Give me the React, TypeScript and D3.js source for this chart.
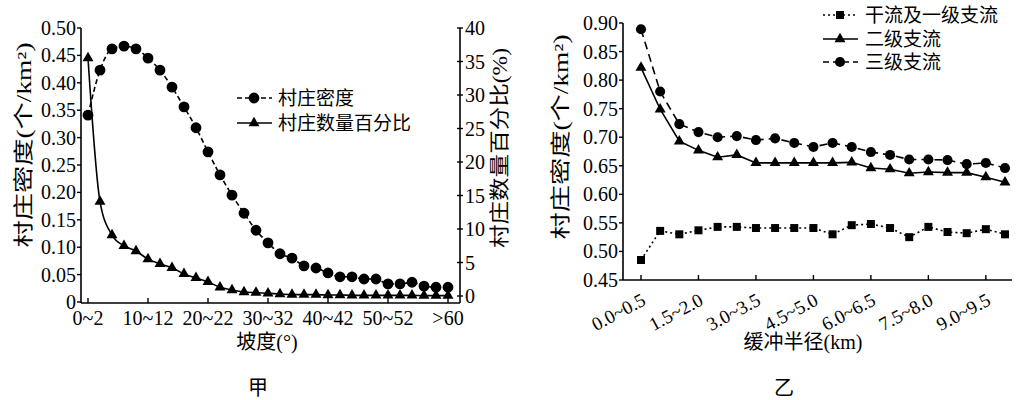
import React from 'react';
import * as d3 from 'd3';

// ---------- 甲 data ----------
const slopeCats = [
  '0~2', '2~4', '4~6', '6~8', '8~10', '10~12', '12~14', '14~16', '16~18', '18~20',
  '20~22', '22~24', '24~26', '26~28', '28~30', '30~32', '32~34', '34~36', '36~38', '38~40',
  '40~42', '42~44', '44~46', '46~48', '48~50', '50~52', '52~54', '54~56', '56~58', '58~60', '>60',
];
const slopeTickLabels = ['0~2', '10~12', '20~22', '30~32', '40~42', '50~52', '>60'];
const villageDensity = [
  0.341, 0.423, 0.462, 0.467, 0.462, 0.445, 0.423, 0.392, 0.356, 0.318,
  0.274, 0.232, 0.195, 0.162, 0.131, 0.108, 0.088, 0.080, 0.066, 0.062,
  0.053, 0.046, 0.046, 0.042, 0.042, 0.033, 0.033, 0.036, 0.029, 0.027, 0.027,
];
const villagePct = [
  35.5, 14.1, 9.1, 7.5, 6.7, 5.5, 4.8, 4.2, 3.3, 2.7,
  2.1, 1.3, 0.9, 0.6, 0.5, 0.4, 0.3, 0.2, 0.2, 0.2,
  0.15, 0.15, 0.1, 0.1, 0.1, 0.1, 0.1, 0.1, 0.05, 0.05, 0.05,
];
const densityTicksL = [0, 0.05, 0.1, 0.15, 0.2, 0.25, 0.3, 0.35, 0.4, 0.45, 0.5];
const pctTicks = [0, 5, 10, 15, 20, 25, 30, 35, 40];

// ---------- 乙 data ----------
const bufferCats = [
  '0.0~0.5', '0.5~1.0', '1.0~1.5', '1.5~2.0', '2.0~2.5', '2.5~3.0', '3.0~3.5', '3.5~4.0', '4.0~4.5', '4.5~5.0',
  '5.0~5.5', '5.5~6.0', '6.0~6.5', '6.5~7.0', '7.0~7.5', '7.5~8.0', '8.0~8.5', '8.5~9.0', '9.0~9.5', '9.5~10.0',
];
const bufferTickLabels = ['0.0~0.5', '1.5~2.0', '3.0~3.5', '4.5~5.0', '6.0~6.5', '7.5~8.0', '9.0~9.5'];
const mainStream = [
  0.485, 0.536, 0.530, 0.537, 0.543, 0.543, 0.541, 0.541, 0.541, 0.541,
  0.530, 0.546, 0.548, 0.541, 0.525, 0.543, 0.534, 0.532, 0.539, 0.530,
];
const secondTrib = [
  0.822, 0.749, 0.693, 0.677, 0.665, 0.669, 0.655, 0.655, 0.655, 0.655,
  0.655, 0.656, 0.646, 0.644, 0.637, 0.639, 0.638, 0.638, 0.630, 0.621,
];
const thirdTrib = [
  0.889, 0.780, 0.723, 0.709, 0.700, 0.702, 0.695, 0.698, 0.690, 0.683,
  0.690, 0.683, 0.674, 0.669, 0.661, 0.661, 0.660, 0.653, 0.655, 0.646,
];
const densityTicksR = [0.45, 0.5, 0.55, 0.6, 0.65, 0.7, 0.75, 0.8, 0.85, 0.9];

const FONT = "'Liberation Serif', 'Noto Sans CJK SC', serif";

const triPath = d3.symbol(d3.symbolTriangle, 52)() as string;
const circPathL = d3.symbol(d3.symbolCircle, 92)() as string;
const circPathR = d3.symbol(d3.symbolCircle, 80)() as string;
const sqPath = d3.symbol(d3.symbolSquare, 64)() as string;

export default function App() {
  // ---- 甲 scales ----
  const xL = d3.scalePoint<string>().domain(slopeCats).range([88, 448]);
  const yL = d3.scaleLinear().domain([0, 0.5]).range([302, 28]);
  const yP = d3.scaleLinear().domain([0, 40]).range([296, 28]);
  const axL = 81, axR = 460, axB = 303, axT = 28;

  const densLine = d3.line<number>()
    .x((_, i) => xL(slopeCats[i]) as number)
    .y((d) => yL(d))
    .curve(d3.curveMonotoneX);
  const pctLine = d3.line<number>()
    .x((_, i) => xL(slopeCats[i]) as number)
    .y((d) => yP(d))
    .curve(d3.curveMonotoneX);

  // ---- 乙 scales ----
  const xB = d3.scalePoint<string>().domain(bufferCats).range([641, 1005]);
  const yB = d3.scaleLinear().domain([0.45, 0.9]).range([280, 23]);
  const bL = 623, bR = 1012, bB = 280, bT = 23;
  const lineB = d3.line<number>()
    .x((_, i) => xB(bufferCats[i]) as number)
    .y((d) => yB(d));

  const sw = 1.6;

  return (
    <svg width={1019} height={400} style={{ position: 'absolute', left: 0, top: 0, background: '#fff' }}
      fontFamily={FONT}>
      <rect x={0} y={0} width={1019} height={400} fill="#fff" />

      {/* ================= 甲 ================= */}
      <g>
        <line x1={axL} y1={axT} x2={axL} y2={axB} stroke="#000" strokeWidth={1.6} />
        <line x1={axR} y1={axT} x2={axR} y2={axB} stroke="#000" strokeWidth={1.6} />
        <line x1={axL} y1={axB} x2={axR} y2={axB} stroke="#000" strokeWidth={1.6} />
        {densityTicksL.map((t) => (
          <g key={'yl' + t}>
            <line x1={axL - 4} x2={axL} y1={yL(t)} y2={yL(t)} stroke="#000" strokeWidth={1.4} />
            <text x={axL - 5} y={yL(t)} dy="0.35em" textAnchor="end" fontSize={20}>
              {t === 0 ? '0' : t.toFixed(2)}
            </text>
          </g>
        ))}
        {pctTicks.map((t) => (
          <g key={'yp' + t}>
            <line x1={axR - 3} x2={axR + 3} y1={yP(t)} y2={yP(t)} stroke="#000" strokeWidth={1.4} />
            <text x={axR + 5} y={yP(t)} dy="0.35em" textAnchor="start" fontSize={20}>{t}</text>
          </g>
        ))}
        {slopeTickLabels.map((c) => (
          <g key={'xl' + c}>
            <line x1={xL(c)} x2={xL(c)} y1={axB} y2={axB - 5} stroke="#000" strokeWidth={1.4} />
            <text x={xL(c)} y={axB + 22} textAnchor="middle" fontSize={20}>{c}</text>
          </g>
        ))}

        <path d={pctLine(villagePct) as string} fill="none" stroke="#000" strokeWidth={sw} />
        <path d={densLine(villageDensity) as string} fill="none" stroke="#000" strokeWidth={sw} strokeDasharray="5,3" />
        {villagePct.map((v, i) => (
          <path key={'tp' + i} d={triPath} transform={`translate(${xL(slopeCats[i])},${yP(v)})`} fill="#000" />
        ))}
        {villageDensity.map((v, i) => (
          <path key={'cd' + i} d={circPathL} transform={`translate(${xL(slopeCats[i])},${yL(v)})`} fill="#000" />
        ))}

        {/* legend */}
        <line x1={237} x2={272} y1={98} y2={98} stroke="#000" strokeWidth={sw} strokeDasharray="5,3" />
        <path d={circPathL} transform="translate(254,98)" fill="#000" />
        <text x={278} y={98} dy="0.36em" fontSize={19}>村庄密度</text>
        <line x1={237} x2={272} y1={123} y2={123} stroke="#000" strokeWidth={sw} />
        <path d={triPath} transform="translate(254,123)" fill="#000" />
        <text x={278} y={123} dy="0.36em" fontSize={19}>村庄数量百分比</text>

        <text transform="translate(24,145) rotate(-90)" textAnchor="middle" dominantBaseline="central"
          fontSize={20} textLength={205} lengthAdjust="spacingAndGlyphs">村庄密度(个/km²)</text>
        <text transform="translate(500,148) rotate(-90)" textAnchor="middle" dominantBaseline="central"
          fontSize={20} textLength={200} lengthAdjust="spacingAndGlyphs">村庄数量百分比(%)</text>
        <text x={267} y={342} dy="0.35em" textAnchor="middle" fontSize={20}>坡度(°)</text>
        <text x={258} y={388} dy="0.35em" textAnchor="middle" fontSize={20}>甲</text>
      </g>

      {/* ================= 乙 ================= */}
      <g>
        <line x1={bL} y1={bT} x2={bL} y2={bB} stroke="#000" strokeWidth={1.6} />
        <line x1={bL} y1={bB} x2={bR} y2={bB} stroke="#000" strokeWidth={1.6} />
        {densityTicksR.map((t) => (
          <g key={'yb' + t}>
            <line x1={bL - 4} x2={bL} y1={yB(t)} y2={yB(t)} stroke="#000" strokeWidth={1.4} />
            <text x={bL - 5} y={yB(t)} dy="0.35em" textAnchor="end" fontSize={20}>{t.toFixed(2)}</text>
          </g>
        ))}
        {bufferTickLabels.map((c) => (
          <g key={'xb' + c}>
            <line x1={xB(c)} x2={xB(c)} y1={bB} y2={bB - 5} stroke="#000" strokeWidth={1.4} />
            <text transform={`translate(${(xB(c) as number) + 6},${bB + 24}) rotate(-28)`} textAnchor="end"
              fontSize={19}>{c}</text>
          </g>
        ))}

        <path d={lineB(mainStream) as string} fill="none" stroke="#000" strokeWidth={sw} strokeDasharray="2,3" />
        <path d={lineB(secondTrib) as string} fill="none" stroke="#000" strokeWidth={sw} />
        <path d={lineB(thirdTrib) as string} fill="none" stroke="#000" strokeWidth={sw} strokeDasharray="8,5" />
        {mainStream.map((v, i) => (
          <path key={'ms' + i} d={sqPath} transform={`translate(${xB(bufferCats[i])},${yB(v)})`} fill="#000" />
        ))}
        {secondTrib.map((v, i) => (
          <path key={'st' + i} d={triPath} transform={`translate(${xB(bufferCats[i])},${yB(v)})`} fill="#000" />
        ))}
        {thirdTrib.map((v, i) => (
          <path key={'tt' + i} d={circPathR} transform={`translate(${xB(bufferCats[i])},${yB(v)})`} fill="#000" />
        ))}

        {/* legend */}
        <line x1={823} x2={858} y1={15} y2={15} stroke="#000" strokeWidth={sw} strokeDasharray="2,3" />
        <path d={sqPath} transform="translate(840,15)" fill="#000" />
        <text x={865} y={15} dy="0.36em" fontSize={19}>干流及一级支流</text>
        <line x1={823} x2={858} y1={39} y2={39} stroke="#000" strokeWidth={sw} />
        <path d={triPath} transform="translate(840,39)" fill="#000" />
        <text x={865} y={39} dy="0.36em" fontSize={19}>二级支流</text>
        <line x1={823} x2={858} y1={62} y2={62} stroke="#000" strokeWidth={sw} strokeDasharray="6,4" />
        <path d={circPathR} transform="translate(840,62)" fill="#000" />
        <text x={865} y={62} dy="0.36em" fontSize={19}>三级支流</text>

        <text transform="translate(561,137) rotate(-90)" textAnchor="middle" dominantBaseline="central"
          fontSize={20} textLength={205} lengthAdjust="spacingAndGlyphs">村庄密度(个/km²)</text>
        <text x={803} y={342} dy="0.35em" textAnchor="middle" fontSize={20}>缓冲半径(km)</text>
        <text x={784} y={388} dy="0.35em" textAnchor="middle" fontSize={20}>乙</text>
      </g>
    </svg>
  );
}
